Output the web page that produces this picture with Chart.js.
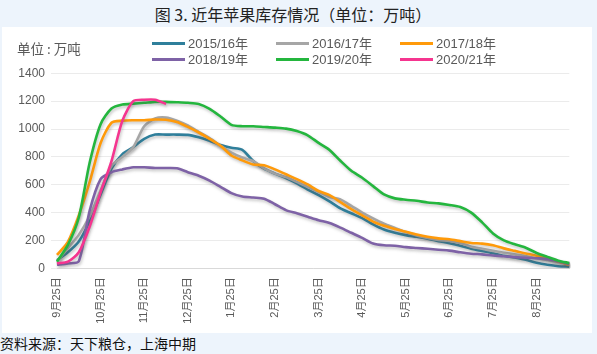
<!DOCTYPE html>
<html>
<head>
<meta charset="utf-8">
<script src="https://cdn.jsdelivr.net/npm/chart.js@4.4.1/dist/chart.umd.min.js"></script>
<style>
  html, body { margin: 0; padding: 0; }
  body { width: 597px; height: 354px; background: #edf4fc; position: relative; overflow: hidden;
         font-family: 'Noto Sans CJK SC', 'Liberation Sans', sans-serif; }
  #title { position: absolute; left: 0; width: 586px; top: 3px; text-align: center; font-size: 16px; color: #222; line-height: 22px; font-weight: 400; }
  #panel { position: absolute; left: 2px; top: 27px; width: 590px; height: 306px; background: #fff; }
  #unit { position: absolute; left: 15px; top: 12px; font-size: 13.5px; color: #595959; line-height: 18px; }
  #footer { position: absolute; left: 0; top: 333px; font-size: 14px; color: #111; line-height: 20px; }
  canvas { position: absolute; left: 0; top: 0; }
</style>
</head>
<body>
<div id="title">图 3. 近年苹果库存情况（单位：万吨）</div>
<div id="panel">
  <canvas id="c" width="590" height="306"></canvas>
  <div id="unit">单位 : 万吨</div>
</div>
<div id="footer">资料来源：天下粮仓，上海中期</div>
<script>
// ---- data (万吨), roughly weekly points from 9月25日 ----
const monthTicks = ['9月25日','10月25日','11月25日','12月25日','1月25日','2月25日','3月25日','4月25日','5月25日','6月25日','7月25日','8月25日'];
const seriesNames = ['2015/16年','2016/17年','2017/18年','2018/19年','2019/20年','2020/21年'];

const s2015 = [58,115,192,340,530,715,820,870,930,960,960,960,958,940,915,885,865,850,770,715,680,648,610,565,525,480,430,395,360,315,278,255,238,226,212,195,180,162,140,125,108,90,78,62,40,25,15,12];
const s2016 = [50,145,240,375,560,735,800,870,1020,1075,1082,1060,1025,980,935,880,830,795,770,718,680,655,620,583,550,512,495,448,400,358,320,290,260,236,218,204,197,182,155,140,125,112,100,88,72,60,45,32];
const s2017 = [96,190,380,620,900,1045,1060,1063,1063,1068,1066,1050,1015,975,930,880,810,775,745,740,710,675,640,602,555,525,475,425,380,335,305,282,262,242,226,215,208,195,182,177,165,143,125,107,90,75,48,25];
const s2018 = [25,35,50,415,640,690,710,725,725,720,720,718,690,665,630,585,540,515,508,500,460,418,395,370,345,325,292,255,218,178,165,162,152,146,140,133,127,115,105,100,92,87,80,76,72,67,50,30];
const s2019 = [48,168,365,760,1035,1147,1176,1182,1188,1195,1195,1192,1188,1180,1145,1090,1030,1020,1020,1015,1010,1003,985,955,900,850,772,700,650,590,530,502,492,485,472,466,455,440,400,330,250,200,172,148,110,82,55,38];
const s2020 = [36,48,115,300,545,770,1060,1200,1210,1210,1180];

const yTicks = { min: 0, max: 1400, step: 200 };
const colors = ['#2f7f9b','#a6a6a6','#ff9a0a','#7e62a6','#24b63e','#f5358f'];

const pointsPerMonth = 4;
const nPoints = s2015.length;
const labels = Array.from({length: nPoints}, (_, i) => i % pointsPerMonth === 0 ? (monthTicks[i / pointsPerMonth] || '') : '');
const allSeries = [s2015, s2016, s2017, s2018, s2019, s2020];

const FONT = "'Liberation Sans', 'Noto Sans CJK SC', sans-serif";

const legendPlugin = {
  id: 'customLegend',
  afterDraw(chart) {
    const ctx = chart.ctx;
    const cols = [150, 274, 398], rows = [16.5, 32.5];
    ctx.save();
    ctx.font = '13px ' + FONT;
    ctx.textBaseline = 'middle';
    ctx.textAlign = 'left';
    chart.data.datasets.forEach((d, i) => {
      const x = cols[i % 3], y = rows[Math.floor(i / 3)];
      ctx.strokeStyle = d.borderColor;
      ctx.lineWidth = 3;
      ctx.lineCap = 'butt';
      ctx.beginPath(); ctx.moveTo(x, y); ctx.lineTo(x + 33, y); ctx.stroke();
      ctx.fillStyle = '#595959';
      ctx.fillText(d.label, x + 36, y + 0.5);
    });
    ctx.restore();
  }
};

const shadowPlugin = {
  id: 'lineShadow',
  beforeDatasetsDraw(chart) {
    const ctx = chart.ctx;
    ctx.save();
    ctx.shadowColor = 'rgba(90,90,90,0.35)';
    ctx.shadowBlur = 3;
    ctx.shadowOffsetX = 1;
    ctx.shadowOffsetY = 2;
  },
  afterDatasetsDraw(chart) {
    chart.ctx.restore();
  }
};

new Chart(document.getElementById('c'), {
  type: 'line',
  data: {
    labels: labels,
    datasets: allSeries.map((s, i) => ({
      label: seriesNames[i],
      data: s,
      borderColor: colors[i],
      backgroundColor: colors[i],
      borderWidth: 2.6,
      pointRadius: 0,
      pointHoverRadius: 0,
      tension: 0.25,
      fill: false,
      order: allSeries.length - i
    }))
  },
  options: {
    responsive: false,
    animation: false,
    events: [],
    layout: { padding: { top: 46.3, right: 22.7, left: 0, bottom: 0 } },
    plugins: { legend: { display: false }, title: { display: false }, tooltip: { enabled: false } },
    scales: {
      x: {
        type: 'category',
        offset: false,
        grid: { display: false, drawTicks: false },
        border: { display: true, color: '#d9d9d9', width: 1 },
        ticks: {
          autoSkip: false, maxRotation: 90, minRotation: 90, padding: 9,
          color: '#595959', font: { size: 11, family: FONT }
        },
        afterFit(scale) { scale.height = 64.7; }
      },
      y: {
        min: yTicks.min, max: yTicks.max,
        grid: { color: '#ebebeb', drawTicks: true, tickLength: 6, tickColor: '#ebebeb', lineWidth: 1 },
        border: { display: false },
        ticks: {
          stepSize: yTicks.step, padding: 6, color: '#595959', font: { size: 12, family: FONT },
          callback: (v) => String(v)
        },
        afterFit(scale) { scale.width = 55; }
      }
    }
  },
  plugins: [shadowPlugin, legendPlugin]
});
</script>
</body>
</html>
